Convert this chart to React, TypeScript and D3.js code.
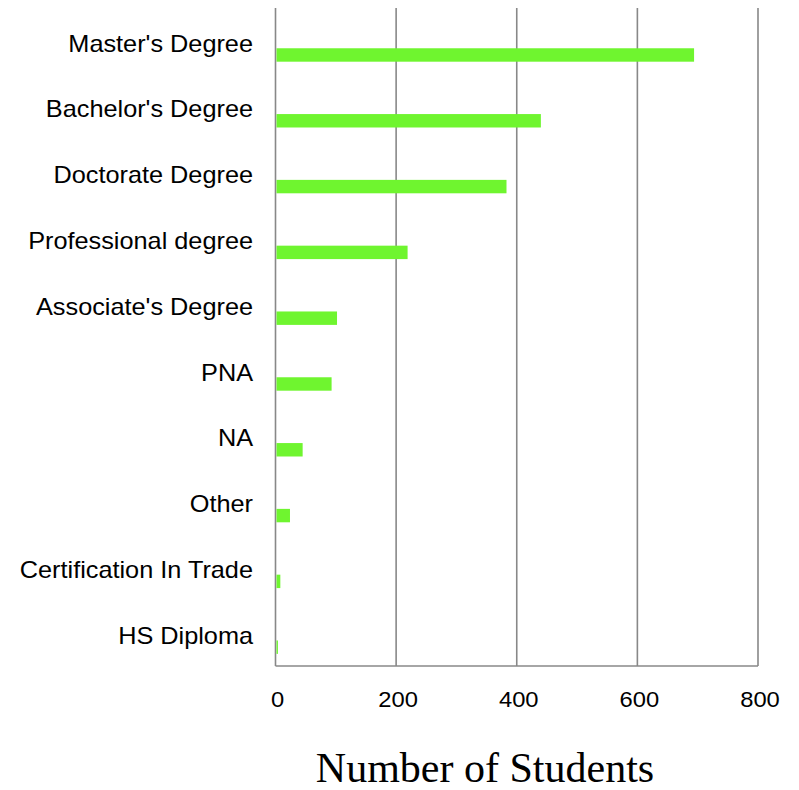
import { useEffect, useRef } from 'react';
import * as d3 from 'd3';

// Degree categories, top to bottom
const categories = [
  "Master's Degree",
  "Bachelor's Degree",
  'Doctorate Degree',
  'Professional degree',
  "Associate's Degree",
  'PNA',
  'NA',
  'Other',
  'Certification In Trade',
  'HS Diploma',
];

// Number of students per category
const students = [694, 440, 383, 219, 102, 93, 45, 24, 8, 4];

const xTicks = [0, 200, 400, 600, 800];
const xTitle = 'Number of Students';

export default function App() {
  const svgRef = useRef<SVGSVGElement>(null);

  useEffect(() => {
    if (!svgRef.current) return;
    const width = 799;
    const height = 790;

    const svg = d3.select(svgRef.current);
    svg.selectAll('*').remove();
    svg.attr('width', width).attr('height', height);

    const left = 275.5;
    const right = 758;
    const top = 8;
    const bottom = 666;

    const xScale = d3.scaleLinear().domain([0, 800]).range([left, right]);
    const yScale = d3.scaleBand<string>().domain(categories).range([top, bottom]).padding(0);
    const band = yScale.bandwidth();

    const gridColor = '#888888';

    // Vertical grid lines
    svg
      .append('g')
      .selectAll('line')
      .data(xTicks)
      .join('line')
      .attr('x1', (d) => xScale(d))
      .attr('x2', (d) => xScale(d))
      .attr('y1', top)
      .attr('y2', bottom)
      .attr('stroke', gridColor)
      .attr('stroke-width', 1.6);

    // Bottom axis line
    svg
      .append('line')
      .attr('x1', xScale(0))
      .attr('x2', xScale(800))
      .attr('y1', bottom)
      .attr('y2', bottom)
      .attr('stroke', gridColor)
      .attr('stroke-width', 1.6);

    // Bars
    const barH = band * 0.204;
    const barOff = band * 0.612;
    svg
      .append('g')
      .selectAll('rect')
      .data(categories)
      .join('rect')
      .attr('x', xScale(0) + 1)
      .attr('y', (d) => (yScale(d) ?? 0) + barOff)
      .attr('width', (d, i) => Math.max(0, xScale(students[i]) - xScale(0) - 1))
      .attr('height', barH)
      .attr('fill', '#6ff52f');

    // Category labels
    svg
      .append('g')
      .selectAll('text')
      .data(categories)
      .join('text')
      .attr('transform', (d) => `translate(253,${(yScale(d) ?? 0) + band * 0.664}) scale(1.1,1)`)
      .attr('text-anchor', 'end')
      .attr('font-family', 'Liberation Sans, Arial, sans-serif')
      .attr('font-size', 23)
      .attr('fill', '#000')
      .text((d) => d);

    // Tick labels
    svg
      .append('g')
      .selectAll('text')
      .data(xTicks)
      .join('text')
      .attr('transform', (d) => `translate(${xScale(d) + 2},707) scale(1.08,1)`)
      .attr('text-anchor', 'middle')
      .attr('font-family', 'Liberation Sans, Arial, sans-serif')
      .attr('font-size', 22)
      .attr('fill', '#000')
      .text((d) => d3.format('d')(d));

    // Axis title
    svg
      .append('text')
      .attr('x', 485)
      .attr('y', 782)
      .attr('text-anchor', 'middle')
      .attr('font-family', 'Liberation Serif, Times New Roman, serif')
      .attr('font-size', 42)
      .attr('fill', '#000')
      .text(xTitle);
  }, []);

  return (
    <div style={{ position: 'absolute', left: 0, top: 0 }}>
      <svg ref={svgRef} style={{ display: 'block' }} />
    </div>
  );
}
